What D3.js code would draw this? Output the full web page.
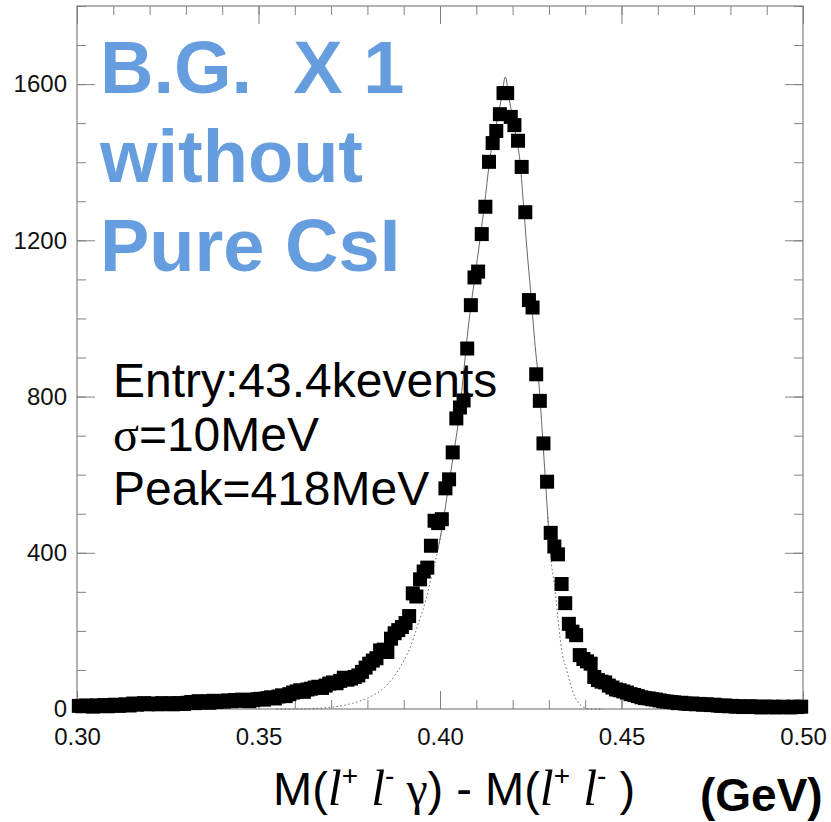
<!DOCTYPE html>
<html>
  <head>
    <title>M(llg) - M(ll)</title>
    <script src="https://d3js.org/d3.v7.min.js"></script>
    <style>
    body { margin: 0; background: white; }
    text { font-family: "Liberation Sans", Arial, sans-serif; }
    </style>
  </head>
  <body>
      <script>
          var width = 831;
          var height = 822;

          // histogram: 200 bins of 1 MeV from 0.30 to 0.50 GeV
          var binStart = 0.30;
          var binWidth = 0.001;

          var leftTail = [8, 7, 9, 8, 6, 9, 8, 10, 7, 9,
                          11, 8, 10, 12, 9, 14, 11, 13, 15, 12,
                          14, 13, 12, 15, 13, 14, 12, 15, 14, 13,
                          16, 18, 15, 20, 17, 19, 16, 21, 18, 20,
                          19, 22, 20, 23, 21, 24, 22, 20, 23, 25,
                          26, 24, 28, 30, 27, 32, 35, 33, 38, 42,
                          45, 48, 44, 50, 52, 55, 57, 54, 60, 65,
                          68, 66, 72, 80, 75, 78, 82, 86, 95, 106];
          var peak = [116, 124, 130, 150, 152, 146, 180, 194, 202, 210,
                      220, 238, 296, 288, 332, 352, 362, 418, 482, 476,
                      486, 565, 588, 657, 744, 772, 790, 923, 1034, 1105,
                      1120, 1216, 1286, 1401, 1449, 1480, 1523, 1577, 1577, 1516,
                      1495, 1455, 1388, 1272, 1047, 1028, 857, 789, 680, 582,
                      451, 416, 396, 320, 271, 218, 198, 189, 138, 128];
          var rightTail = [122, 116, 82, 74, 70, 68, 60, 55, 50, 48,
                           45, 42, 38, 36, 33, 30, 28, 27, 25, 24,
                           22, 20, 19, 18, 17, 15, 16, 14, 13, 14,
                           12, 13, 11, 12, 10, 11, 9, 8, 9, 7,
                           8, 6, 7, 5, 6, 7, 5, 6, 4, 6,
                           5, 6, 4, 5, 6, 5, 4, 6, 5, 6];

          // fitted curve [GeV, entries]
          var fitCurve = [[0.355, 0], [0.3614, 0], [0.3669, 2], [0.3752, 13], [0.3807, 31],
                          [0.3848, 56], [0.3876, 87], [0.3898, 120], [0.3917, 156], [0.3939, 215],
                          [0.3961, 279], [0.3981, 356], [0.3994, 407], [0.4008, 476], [0.4022, 561],
                          [0.4036, 645], [0.4050, 732], [0.4063, 842], [0.4077, 970], [0.4096, 1106],
                          [0.4110, 1201], [0.4124, 1303], [0.4138, 1413], [0.4155, 1495], [0.4170, 1568],
                          [0.4180, 1618], [0.4191, 1560], [0.4211, 1457], [0.4220, 1406], [0.4229, 1303],
                          [0.4239, 1183], [0.4250, 1065], [0.4264, 911], [0.4271, 850], [0.4285, 663],
                          [0.4297, 492], [0.4306, 381], [0.4317, 305], [0.4326, 223], [0.4335, 151],
                          [0.4349, 100], [0.4367, 41], [0.4390, 8], [0.4413, 0], [0.445, 0]];
          var fitRange = [0.400, 0.430];

          var xMajor = [0.30, 0.35, 0.40, 0.45, 0.50];
          var xLabels = ["0.30", "0.35", "0.40", "0.45", "0.50"];
          var yMajor = [0, 400, 800, 1200, 1600];
          var yLabels = ["0", "400", "800", "1200", "1600"];

          var titleLines = ["B.G.  X 1", "without", "Pure CsI"];

          var counts = leftTail.concat(peak, rightTail);

          var svg = d3.select("body")
                      .append("svg")
                      .attr("height", height)
                      .attr("width", width)
                      .style("background", "white");

          var x = d3.scaleLinear().domain([0.30, 0.50]).range([77, 803]);
          var y = d3.scaleLinear().domain([0, 1800]).range([709, 6]);

          var axisColor = "#808080";

          // frame
          svg.append("rect")
             .attr("x", x(0.30)).attr("y", y(1800))
             .attr("width", x(0.50) - x(0.30))
             .attr("height", y(0) - y(1800))
             .attr("fill", "none")
             .attr("stroke", axisColor)
             .attr("stroke-width", 1.2);

          // ticks on all four sides, pointing inward
          function drawAxis(axis, tx, ty) {
            var g = svg.append("g")
                       .attr("transform", "translate(" + tx + "," + ty + ")")
                       .call(axis);
            g.select(".domain").remove();
            g.selectAll("line").attr("stroke", axisColor);
            return g;
          }

          drawAxis(d3.axisBottom(x).tickValues(x.ticks(20)).tickSize(-9).tickFormat(""), 0, y(0));
          drawAxis(d3.axisTop(x).tickValues(x.ticks(20)).tickSize(-9).tickFormat(""), 0, y(1800));
          drawAxis(d3.axisLeft(y).tickValues(y.ticks(18)).tickSize(-9).tickFormat(""), x(0.30), 0);
          drawAxis(d3.axisRight(y).tickValues(y.ticks(18)).tickSize(-9).tickFormat(""), x(0.50), 0);
          drawAxis(d3.axisTop(x).tickValues(xMajor).tickSize(-18).tickFormat(""), 0, y(1800));
          drawAxis(d3.axisRight(y).tickValues(yMajor).tickSize(-18).tickFormat(""), x(0.50), 0);

          var xAxis = drawAxis(d3.axisBottom(x).tickValues(xMajor).tickSize(-18).tickPadding(19)
                                 .tickFormat(function(d, i){ return xLabels[i]; }), 0, y(0));
          xAxis.selectAll("text")
               .style("font-size", "24px")
               .attr("fill", "#111");

          var yAxis = drawAxis(d3.axisLeft(y).tickValues(yMajor).tickSize(-18).tickPadding(10)
                                 .tickFormat(function(d, i){ return yLabels[i]; }), x(0.30), 0);
          yAxis.selectAll("text")
               .style("font-size", "24px")
               .attr("fill", "#111");

          // fit curve: solid inside the fit range, dotted outside
          var fitLine = d3.line()
                          .x(function(d){ return x(d[0]); })
                          .y(function(d){ return y(d[1]); })
                          .curve(d3.curveMonotoneX);

          var fitLeft = fitCurve.filter(function(d){ return d[0] <= fitRange[0] + 0.001; });
          var fitCore = fitCurve.filter(function(d){ return d[0] >= fitRange[0] - 0.001 && d[0] <= fitRange[1] + 0.001; });
          var fitRight = fitCurve.filter(function(d){ return d[0] >= fitRange[1] - 0.001; });

          [fitLeft, fitRight].forEach(function(seg){
            svg.append("path")
               .attr("d", fitLine(seg))
               .attr("fill", "none")
               .attr("stroke", "#666")
               .attr("stroke-width", 1)
               .attr("stroke-dasharray", "1.5,2.5");
          });
          svg.append("path")
             .attr("d", fitLine(fitCore))
             .attr("fill", "none")
             .attr("stroke", "#666")
             .attr("stroke-width", 1);

          // markers
          var size = 14;
          svg.append("g")
             .selectAll("rect")
             .data(counts)
             .enter()
             .append("rect")
             .attr("x", function(d, i){ return x(binStart + (i + 0.5) * binWidth) - size / 2; })
             .attr("y", function(d){ return y(d) - size / 2; })
             .attr("width", size)
             .attr("height", size)
             .attr("fill", "black");

          // big blue title
          svg.append("g")
             .selectAll("text")
             .data(titleLines)
             .enter()
             .append("text")
             .attr("x", 100)
             .attr("y", function(d, i){ return 93 + i * 89; })
             .attr("fill", "#659ddf")
             .style("font-size", "74px")
             .style("font-weight", "bold")
             .style("white-space", "pre")
             .text(function(d){ return d; });

          // stats
          var stats = svg.append("g").style("font-size", "48px").attr("fill", "black");
          stats.append("text").attr("x", 113).attr("y", 397).text("Entry:43.4kevents");
          var sig = stats.append("text").attr("x", 113).attr("y", 451);
          sig.append("tspan").style("font-family", "'Liberation Serif', serif").text("σ");
          sig.append("tspan").text("=10MeV");
          stats.append("text").attr("x", 113).attr("y", 505).text("Peak=418MeV");

          // x axis title
          var title = svg.append("text")
                         .attr("x", 273)
                         .attr("y", 805)
                         .attr("fill", "black")
                         .style("font-size", "47px");
          var parts = [["M(", "sans"], ["l", "ital"], ["+", "sup"], [" ", "sans"], ["l", "ital"], ["-", "sup"],
                       [" γ", "serif"], [") - M(", "sans"], ["l", "ital"], ["+", "sup"], [" ", "sans"],
                       ["l", "ital"], ["-", "sup"], [" )", "sans"]];
          parts.forEach(function(p){
            var t = title.append("tspan").text(p[0]).style("white-space", "pre");
            if (p[1] == "ital") {
              t.style("font-family", "'Liberation Serif', serif").style("font-style", "italic").style("font-size", "50px");
            } else if (p[1] == "serif") {
              t.style("font-family", "'Liberation Serif', serif").style("font-size", "48px");
            } else if (p[1] == "sup") {
              t.style("font-size", "28px").attr("baseline-shift", "70%");
            }
          });

          svg.append("text")
             .attr("x", 700)
             .attr("y", 811)
             .attr("fill", "black")
             .style("font-size", "46px")
             .style("font-weight", "bold")
             .text("(GeV)");
      </script>
  </body>
</html>
